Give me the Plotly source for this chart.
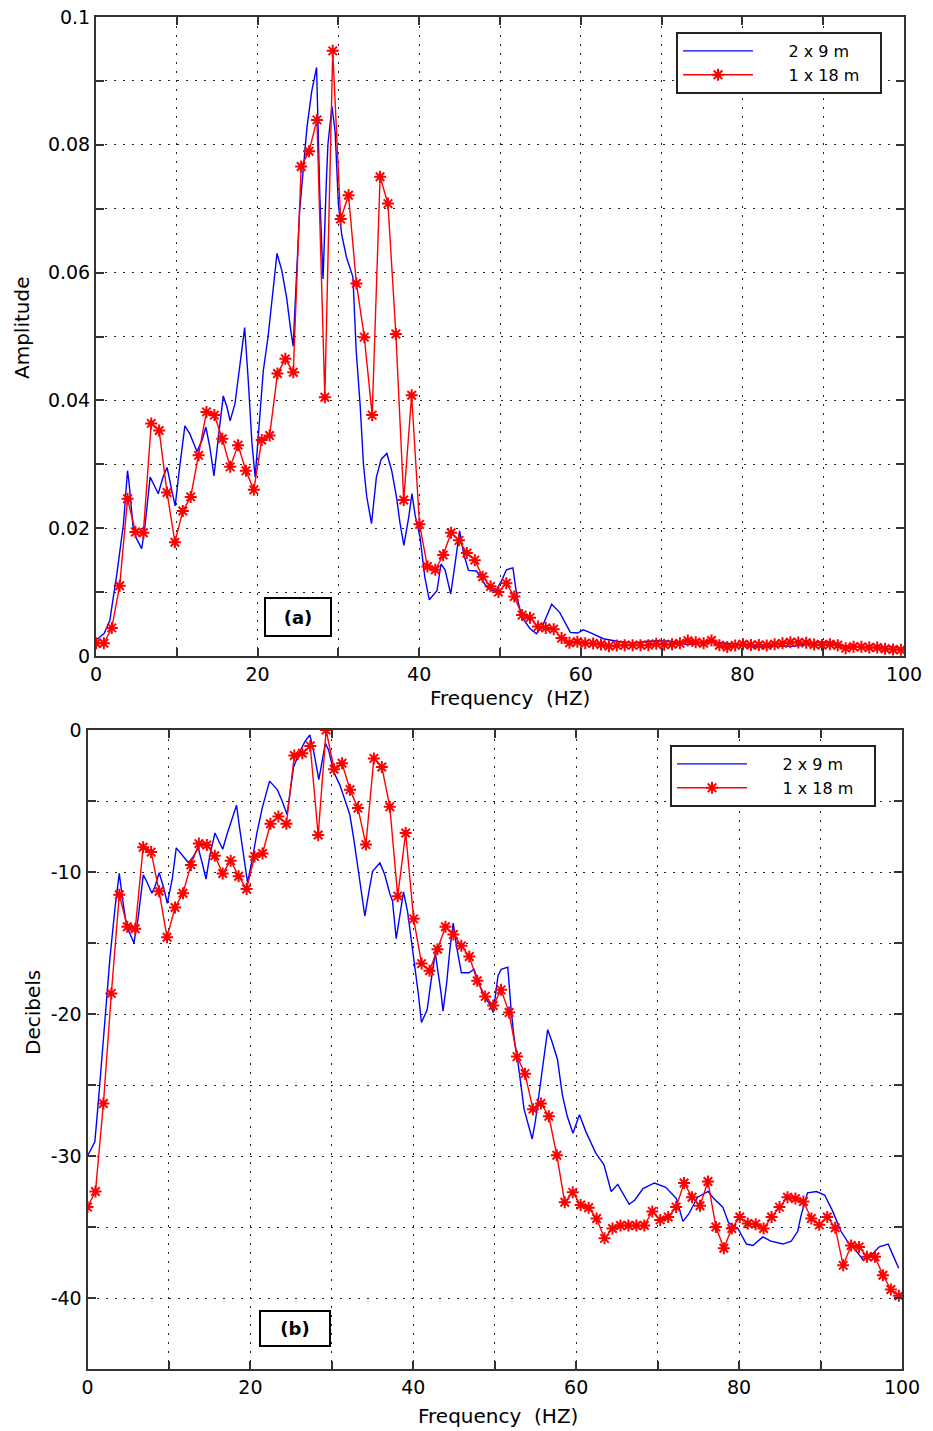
import plotly.graph_objects as go

# ---------------- data ----------------
DF_RED = 0.9766  # frequency step of the 1 x 18 m spectrum (Hz)

# (a) Amplitude spectra
red_amp = [
    0.0020, 0.0020, 0.0044, 0.0110, 0.0246, 0.0194, 0.0193, 0.0364, 0.0353, 0.0256,
    0.0178, 0.0227, 0.0249, 0.0314, 0.0382, 0.0377, 0.0340, 0.0296, 0.0330, 0.0290,
    0.0260, 0.0338, 0.0345, 0.0442, 0.0465, 0.0444, 0.0766, 0.0790, 0.0839, 0.0405,
    0.0947, 0.0684, 0.0721, 0.0583, 0.0499, 0.0377, 0.0750, 0.0708, 0.0504, 0.0244,
    0.0408, 0.0206, 0.0140, 0.0135, 0.0158, 0.0193, 0.0181, 0.0161, 0.0150, 0.0124,
    0.0109, 0.0100, 0.0114, 0.0093, 0.0064, 0.0060, 0.0046, 0.0044, 0.0042, 0.0028,
    0.00206, 0.00223, 0.00201, 0.00197, 0.00180, 0.00154, 0.00166, 0.00170, 0.00170, 0.00170,
    0.00170, 0.00191, 0.00178, 0.00183, 0.00198, 0.00241, 0.00214, 0.00200, 0.00243, 0.00168,
    0.00142, 0.00166, 0.00183, 0.00173, 0.00172, 0.00166, 0.00183, 0.00198, 0.00214, 0.00212,
    0.00207, 0.00180, 0.00171, 0.00183, 0.00167, 0.00123, 0.00145, 0.00143, 0.00132, 0.00132,
    0.00114, 0.00101, 0.00096,
]

blue_freq_a = [
    0, 0.5, 1.0, 1.7, 2.6, 3.4, 3.9, 4.1, 4.6, 5.0, 5.65, 6.0, 6.7, 7.1, 7.7, 8.3, 8.8, 9.4, 9.8,
    10.3, 11.0, 11.6, 12.5, 13.1, 13.6, 14.1, 14.6, 15.2, 15.75, 16.2, 16.6, 17.2, 17.8, 18.4,
    18.85, 19.3, 19.7, 20.3, 20.7, 21.3, 21.8, 22.4, 23.0, 23.6, 24.1, 24.4, 25.2, 26.1, 26.7,
    27.3, 27.7, 28.1, 28.5, 28.7, 29.2, 29.6, 30.0, 30.4, 31.0, 31.8, 32.2, 32.7, 33.1, 33.5,
    34.1, 34.7, 35.3, 36.0, 36.6, 37.2, 37.6, 38.1, 38.7, 39.1, 39.5, 40.1, 40.7, 41.25, 42.2,
    42.7, 43.2, 43.9, 44.5, 45.0, 45.5, 46.1, 47.1, 48.35, 49.4, 50.2, 50.8, 51.6, 52.1, 52.7,
    53.7, 54.5, 55.3, 56.4, 57.4, 58.7, 59.6, 60.3, 61.1, 62.8, 64.5, 66.5, 68.2, 69.6, 71.0,
    72.3, 73.1, 74.9, 76.2, 78.0, 79.85, 81.7, 83.9, 86.4, 87.6, 89.5, 90.5, 92.5, 94.4, 95.2,
    97.2, 98.3, 99.6,
]
blue_amp = [
    0.0025, 0.0030, 0.0035, 0.0055, 0.0130, 0.0207, 0.0290, 0.0270, 0.0200, 0.0184, 0.0168,
    0.0196, 0.0280, 0.0270, 0.0254, 0.0280, 0.0295, 0.0258, 0.0235, 0.0290, 0.0360, 0.0348,
    0.0320, 0.0337, 0.0358, 0.0326, 0.0282, 0.0348, 0.0407, 0.0390, 0.0368, 0.0395, 0.0457,
    0.0514, 0.0430, 0.0333, 0.0280, 0.0380, 0.0446, 0.0500, 0.0560, 0.0630, 0.0603, 0.0560,
    0.0510, 0.0485, 0.0696, 0.0826, 0.0884, 0.0921, 0.0720, 0.0590, 0.0740, 0.0800, 0.0860,
    0.0820, 0.0707, 0.0660, 0.0624, 0.0593, 0.0478, 0.0391, 0.0300, 0.0250, 0.0207, 0.0280,
    0.0308, 0.0317, 0.0290, 0.0248, 0.0210, 0.0173, 0.0217, 0.0254, 0.0220, 0.0186, 0.0123,
    0.0088, 0.0102, 0.0144, 0.0135, 0.0097, 0.0150, 0.0196, 0.0160, 0.0134, 0.0133, 0.0108,
    0.0100, 0.0118, 0.0135, 0.0138, 0.0092, 0.0061, 0.0043, 0.0035, 0.0048, 0.0081, 0.0068,
    0.0037, 0.0036, 0.0041, 0.0037, 0.0027, 0.0023, 0.0020, 0.0023, 0.0024, 0.0023, 0.0021,
    0.0018, 0.0021, 0.0022, 0.0020, 0.0017, 0.0014, 0.0015, 0.0015, 0.0018, 0.0022, 0.0022,
    0.0016, 0.0014, 0.0013, 0.0014, 0.0015, 0.0012,
]

# (b) Decibel spectra
red_db = [
    -33.6, -32.5, -26.3, -18.55, -11.6, -13.85, -14.0, -8.26, -8.6, -11.35,
    -14.6, -12.5, -11.5, -9.5, -8.0, -8.1, -8.85, -10.1, -9.2, -10.3,
    -11.2, -8.9, -8.7, -6.6, -6.1, -6.6, -1.8, -1.64, -1.12, -7.4,
    0.0, -2.76, -2.34, -4.2, -5.5, -8.07, -2.0, -2.6, -5.4, -11.7,
    -7.25, -13.3, -16.45, -16.96, -15.44, -13.85, -14.4, -15.2, -15.95, -17.66,
    -18.76, -19.4, -18.3, -19.9, -23.0, -24.2, -26.7, -26.3, -27.2, -29.95,
    -33.26, -32.56, -33.45, -33.64, -34.4, -35.8, -35.1, -34.9, -34.9, -34.9,
    -34.9, -33.9, -34.5, -34.3, -33.6, -31.9, -32.9, -33.5, -31.8, -35.0,
    -36.5, -35.1, -34.3, -34.75, -34.8, -35.1, -34.3, -33.6, -32.9, -33.0,
    -33.2, -34.4, -34.85, -34.3, -35.05, -37.7, -36.3, -36.4, -37.1, -37.1,
    -38.4, -39.4, -39.85,
]

blue_freq_b = [
    0, 0.9, 1.3, 1.7, 2.35, 2.75, 3.4, 3.9, 4.3, 4.8, 5.7, 6.2, 6.85, 7.3, 7.9, 8.3, 8.8, 9.3,
    9.8, 10.4, 10.9, 11.8, 12.4, 13.0, 13.6, 14.1, 14.55, 15.0, 15.65, 16.1, 16.6, 17.1, 17.8,
    18.3, 18.7, 19.2, 19.65, 20.3, 20.8, 21.45, 22.35, 23.3, 23.9, 24.5, 24.8, 25.3, 26.1,
    26.7, 27.3, 27.8, 28.4, 28.8, 29.2, 29.6, 30.2, 31.0, 31.6, 32.2, 32.7, 33.3, 33.8, 34.05,
    34.6, 35.0, 35.9, 36.5, 37.1, 37.45, 37.9, 38.3, 38.8, 39.3, 40.0, 40.6, 41.0, 41.7, 42.1,
    42.7, 43.4, 43.65, 44.1, 44.5, 44.9, 45.3, 45.9, 46.85, 47.45, 48.0, 48.6, 49.5, 49.8,
    50.4, 50.8, 51.6, 52.0, 52.4, 52.8, 53.6, 54.6, 55.0, 55.65, 56.5, 57.0, 57.7, 58.3, 58.9,
    59.6, 60.4, 61.2, 62.4, 63.4, 64.3, 65.1, 66.5, 67.2, 68.2, 69.6, 71.0, 72.3, 73.1, 73.8,
    74.9, 76.2, 76.9, 78.0, 78.7, 79.85, 80.9, 81.7, 82.9, 83.9, 85.4, 86.4, 87.2, 87.6, 88.4,
    89.5, 90.5, 91.5, 92.5, 93.4, 94.4, 95.2, 96.2, 97.2, 98.3, 98.9, 99.6,
]
blue_db = [
    -30.0, -29.0, -26.4, -23.6, -19.4, -16.1, -12.4, -10.1, -11.9, -13.8, -15.0, -13.3, -10.2,
    -10.7, -11.5, -11.0, -10.05, -11.0, -12.2, -10.5, -8.3, -8.9, -9.35, -8.9, -8.3, -9.4,
    -10.5, -8.9, -7.25, -7.8, -8.4, -7.4, -6.1, -5.3, -7.0, -9.1, -10.75, -8.9, -7.25, -5.5,
    -3.6, -4.2, -5.0, -5.95, -4.8, -2.6, -1.5, -0.8, -0.35, -1.6, -3.5, -2.1, -0.94, -1.4,
    -2.9, -3.9, -4.9, -5.95, -7.7, -10.0, -11.9, -13.1, -11.2, -9.95, -9.36, -10.2, -11.5,
    -12.05, -14.7, -13.2, -11.4, -12.8, -15.7, -18.5, -20.6, -19.7, -18.0, -15.7, -18.5,
    -19.8, -17.8, -15.4, -13.6, -15.2, -17.1, -17.1, -16.85, -17.7, -18.7, -19.4, -19.9,
    -17.3, -16.85, -16.7, -19.65, -21.8, -23.2, -26.7, -28.8, -27.5, -24.6, -21.1, -21.9,
    -23.2, -25.7, -27.2, -28.4, -27.1, -28.3, -29.8, -30.6, -32.5, -32.0, -33.4, -33.1,
    -32.3, -31.9, -32.2, -33.0, -34.6, -34.1, -32.9, -32.5, -33.0, -33.6, -34.7, -35.1,
    -36.2, -36.3, -35.7, -36.0, -36.2, -36.0, -35.3, -34.2, -32.6, -32.5, -32.75, -33.9,
    -35.3, -36.1, -36.7, -37.3, -37.0, -36.4, -36.2, -37.0, -37.9,
]

red_freq_a = [round(i * DF_RED, 3) for i in range(len(red_amp))]
red_freq_b = [round(i * DF_RED, 3) for i in range(len(red_db))]

series_names = ["2 x 9 m", "1 x 18 m"]

x_ticks = [0, 10, 20, 30, 40, 50, 60, 70, 80, 90, 100]
x_text = ["0", "", "20", "", "40", "", "60", "", "80", "", "100"]
ya_ticks = [0, 0.01, 0.02, 0.03, 0.04, 0.05, 0.06, 0.07, 0.08, 0.09, 0.1]
ya_text = ["0", "", "0.02", "", "0.04", "", "0.06", "", "0.08", "", "0.1"]
yb_ticks = [-45, -40, -35, -30, -25, -20, -15, -10, -5, 0]
yb_text = ["", "-40", "", "-30", "", "-20", "", "-10", "", "0"]

# ---------------- figure ----------------
W, H = 933, 1431
FONT = "DejaVu Sans, Verdana, sans-serif"
BLUE = "#0000ff"
RED = "#ff0000"
NB = "\u00a0"

fig = go.Figure()

blue_line = dict(color=BLUE, width=1.4)
red_line = dict(color=RED, width=1.4)
red_marker = dict(symbol="asterisk-open", size=10, line=dict(color=RED, width=2))

leg_blue = NB * 6 + series_names[0] + NB * 5
leg_red = NB * 6 + series_names[1] + NB * 3

fig.add_trace(go.Scatter(x=blue_freq_a, y=blue_amp, mode="lines", line=blue_line,
                         name=leg_blue, xaxis="x", yaxis="y", legend="legend"))
fig.add_trace(go.Scatter(x=red_freq_a, y=red_amp, mode="lines+markers", line=red_line,
                         marker=red_marker, name=leg_red, xaxis="x", yaxis="y",
                         legend="legend"))
fig.add_trace(go.Scatter(x=blue_freq_b, y=blue_db, mode="lines", line=blue_line,
                         name=leg_blue, xaxis="x2", yaxis="y2", legend="legend2"))
fig.add_trace(go.Scatter(x=red_freq_b, y=red_db, mode="lines+markers", line=red_line,
                         marker=red_marker, name=leg_red, xaxis="x2", yaxis="y2",
                         legend="legend2"))


def px_x(p):
    return p / W


def px_y(p):
    return 1 - p / H


axis_common = dict(
    showline=True, linecolor="#333", linewidth=2, mirror="ticks",
    ticks="inside", ticklen=8, tickwidth=2, tickcolor="#333",
    showgrid=True, gridcolor="#222", gridwidth=1.3, griddash="2px,7px",
    zeroline=False, tickfont=dict(family=FONT, size=19, color="black"),
    tickmode="array", automargin=False,
)

fig.update_layout(
    width=W, height=H, margin=dict(l=0, r=0, t=0, b=0, autoexpand=False),
    paper_bgcolor="white", plot_bgcolor="white",
    font=dict(family=FONT, size=19, color="black"),
    xaxis=dict(axis_common, domain=[px_x(96), px_x(904)], range=[0, 100],
               tickvals=x_ticks, ticktext=x_text, anchor="y"),
    yaxis=dict(axis_common, domain=[px_y(656), px_y(17)], range=[0, 0.1],
               tickvals=ya_ticks, ticktext=ya_text, anchor="x"),
    xaxis2=dict(axis_common, domain=[px_x(87.5), px_x(902)], range=[0, 100],
                tickvals=x_ticks, ticktext=x_text, anchor="y2"),
    yaxis2=dict(axis_common, domain=[px_y(1369), px_y(730)], range=[-45, 0],
                tickvals=yb_ticks, ticktext=yb_text, anchor="x2"),
    legend=dict(x=px_x(676), y=px_y(32), xanchor="left", yanchor="top",
                bgcolor="white", bordercolor="#222", borderwidth=2,
                font=dict(family=FONT, size=16), itemwidth=70, tracegroupgap=0),
    legend2=dict(x=px_x(670), y=px_y(745), xanchor="left", yanchor="top",
                 bgcolor="white", bordercolor="#222", borderwidth=2,
                 font=dict(family=FONT, size=16), itemwidth=70, tracegroupgap=0),
)

ann_common = dict(xref="paper", yref="paper", showarrow=False,
                  xanchor="center", yanchor="middle")
annotations = [
    dict(ann_common, text="<b>(a)</b>", x=px_x(298), y=px_y(617),
         font=dict(family=FONT, size=18), bgcolor="white",
         bordercolor="black", borderwidth=2, width=62, height=34, borderpad=1),
    dict(ann_common, text="<b>(b)</b>", x=px_x(295), y=px_y(1328),
         font=dict(family=FONT, size=18), bgcolor="white",
         bordercolor="black", borderwidth=2, width=66, height=31, borderpad=1),
    dict(ann_common, text="Frequency  (HZ)", x=px_x(510), y=px_y(698),
         font=dict(family=FONT, size=20)),
    dict(ann_common, text="Frequency  (HZ)", x=px_x(498), y=px_y(1416),
         font=dict(family=FONT, size=20)),
    dict(ann_common, text="Amplitude", x=px_x(22), y=px_y(328), textangle=-90,
         font=dict(family=FONT, size=20)),
    dict(ann_common, text="Decibels", x=px_x(33), y=px_y(1013), textangle=-90,
         font=dict(family=FONT, size=20)),
]
fig.update_layout(annotations=annotations)

fig.write_html("out.html")
